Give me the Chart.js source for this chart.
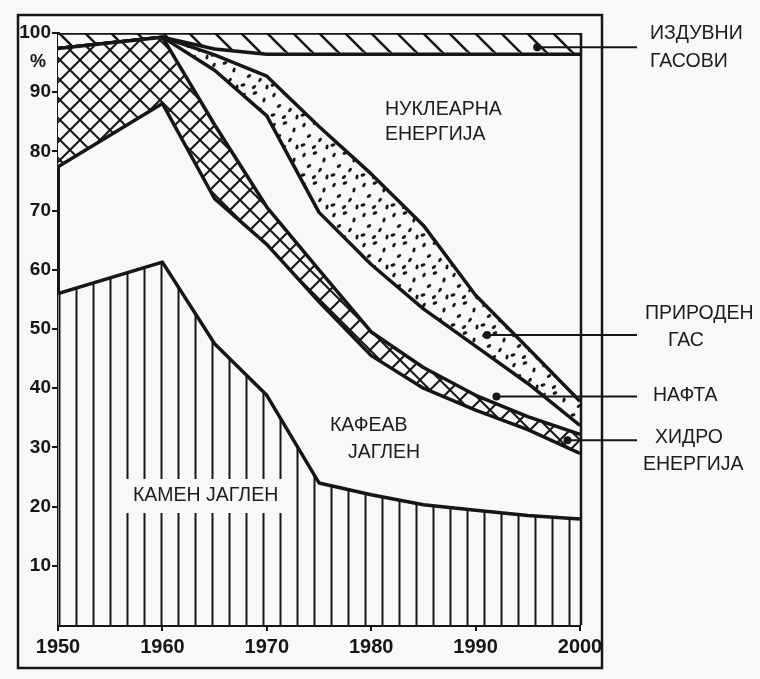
<!DOCTYPE html>
<html><head><meta charset="utf-8">
<script src="https://cdn.jsdelivr.net/npm/chart.js@4.4.1/dist/chart.umd.min.js"></script>
<style>
html,body{margin:0;padding:0;background:#f8f8f7;}
#wrap{position:relative;width:760px;height:679px;}
</style></head><body>
<div id="wrap"><canvas id="c" width="760" height="679"></canvas></div>
<script>
// ---- data (share of world energy consumption, %) ----
const years     = [1950, 1960, 1965, 1970, 1975, 1980, 1985, 1990, 1995, 2000];
const hardCoal  = [56, 61.3, 47.5, 38.8, 24, 22, 20.3, 19.4, 18.5, 17.9];
const brownCoal = [21.4, 26.8, 24.5, 25.5, 30.6, 23.5, 19.7, 16.9, 14.5, 11.1];
const hydro     = [20, 11.2, 12.5, 6.3, 5.4, 4, 3.5, 2.5, 2.2, 3.2];
const oil       = [0, 0, 9.2, 15.4, 9.7, 11.4, 9.9, 8.3, 5.6, 1.5];
const gas       = [0, 0, 2.6, 6.7, 14.5, 15.3, 14.1, 8.6, 6, 4.1];
const nuclear   = [0, 0, 1.0, 3.7, 12.2, 20.2, 28.9, 40.7, 49.6, 58.6];
const exhaust   = [2.6, 0.7, 2.7, 3.6, 3.6, 3.6, 3.6, 3.6, 3.6, 3.6];
const xTicks = [1950, 1960, 1970, 1980, 1990, 2000];
const yTicks = [10, 20, 30, 40, 50, 60, 70, 80, 90, 100];

const BG = '#f8f8f7', INK = '#161616';
const cv = document.getElementById('c');
const mainCtx = cv.getContext('2d');

function makePattern(w, h, draw) {
  const c = document.createElement('canvas');
  c.width = w; c.height = h;
  const g = c.getContext('2d');
  g.fillStyle = BG; g.fillRect(0, 0, w, h);
  g.strokeStyle = INK; g.fillStyle = INK;
  draw(g, w, h);
  return mainCtx.createPattern(c, 'repeat');
}
const vHatch = makePattern(17, 12, (g, w, h) => {
  g.lineWidth = 2; g.beginPath(); g.moveTo(8.5, 0); g.lineTo(8.5, h); g.stroke();
});
const crossHatch = makePattern(20, 20, (g, w, h) => {
  g.lineWidth = 2;
  g.beginPath();
  g.moveTo(-2, -2); g.lineTo(w + 2, h + 2);
  g.moveTo(w + 2, -2); g.lineTo(-2, h + 2);
  g.stroke();
});
const diagHatch = makePattern(26, 26, (g, w, h) => {
  g.lineWidth = 2.5;
  g.beginPath();
  g.moveTo(-2, -2); g.lineTo(w + 2, h + 2);
  g.moveTo(-w - 2, -2); g.lineTo(2, h + 2);
  g.moveTo(w - 2, -h - 2); g.lineTo(2 * w + 2, h + 2);
  g.stroke();
});
const dotted = makePattern(30, 30, (g) => {
  const dots = [[4,5,0.5],[15,3,1.2],[24,10,0.3],[9,16,1.0],[20,20,0.6],[3,25,1.3],[27,27,0.2],[14,27,0.9]];
  dots.forEach(([x, y, r]) => {
    g.beginPath(); g.ellipse(x, y, 1.5, 2.5, r, 0, Math.PI * 2); g.fill();
  });
});

const pts = arr => years.map((x, i) => ({ x, y: arr[i] }));
const base = { borderColor: INK, borderWidth: 3.5, pointRadius: 0, tension: 0, borderJoinStyle: 'round' };

const annot = {
  id: 'annot',
  afterDraw(chart) {
    const ctx = chart.ctx, a = chart.chartArea;
    const xs = chart.scales.x, ys = chart.scales.y;
    ctx.save();
    ctx.strokeStyle = INK; ctx.lineWidth = 2.5;
    ctx.beginPath(); ctx.moveTo(a.right + 1, a.top); ctx.lineTo(a.right + 1, a.bottom); ctx.stroke();
    ctx.strokeRect(18, 15, 584, 653);
    ctx.fillStyle = INK;
    ctx.font = 'bold 18px "Liberation Sans", Arial, sans-serif';
    ctx.textAlign = 'center'; ctx.textBaseline = 'middle';
    ctx.fillText('%', 38, 62);
    const leaders = [
      { x: 1995.9, y: 97.6 },
      { x: 1991.1, y: 49.0 },
      { x: 1992.0, y: 38.6 },
      { x: 1998.8, y: 31.2 }
    ];
    ctx.lineWidth = 2;
    leaders.forEach(l => {
      const px = xs.getPixelForValue(l.x), py = ys.getPixelForValue(l.y);
      ctx.beginPath(); ctx.moveTo(px, py); ctx.lineTo(637, py); ctx.stroke();
      ctx.beginPath(); ctx.arc(px, py, 4, 0, Math.PI * 2); ctx.fill();
    });
    ctx.fillStyle = BG;
    ctx.fillRect(124, 479, 166, 34);
    ctx.fillStyle = '#1c1c1c';
    ctx.font = '19.5px "Liberation Sans", Arial, sans-serif';
    ctx.textAlign = 'left'; ctx.textBaseline = 'middle';
    const texts = [
      ['ИЗДУВНИ', 650, 34], ['ГАСОВИ', 650, 62],
      ['НУКЛЕАРНА', 385, 110], ['ЕНЕРГИЈА', 385, 135],
      ['ПРИРОДЕН', 645, 314], ['ГАС', 668, 341],
      ['НАФТА', 653, 396],
      ['ХИДРО', 655, 438], ['ЕНЕРГИЈА', 643, 465],
      ['КАФЕАВ', 330, 426], ['ЈАГЛЕН', 348, 453],
      ['КАМЕН ЈАГЛЕН', 133, 496]
    ];
    texts.forEach(([t, x, y]) => ctx.fillText(t, x, y));
    ctx.restore();
  }
};

new Chart(cv, {
  type: 'line',
  data: {
    datasets: [
      { ...base, label: 'Камен јаглен', data: pts(hardCoal), fill: 'origin', backgroundColor: vHatch },
      { ...base, label: 'Кафеав јаглен', data: pts(brownCoal), fill: false },
      { ...base, label: 'Хидро енергија', data: pts(hydro), fill: '-1', backgroundColor: crossHatch },
      { ...base, label: 'Нафта', data: pts(oil), fill: false },
      { ...base, label: 'Природен гас', data: pts(gas), fill: '-1', backgroundColor: dotted },
      { ...base, label: 'Нуклеарна енергија', data: pts(nuclear), fill: false },
      { ...base, label: 'Издувни гасови', data: pts(exhaust), fill: '-1', backgroundColor: diagHatch }
    ]
  },
  options: {
    responsive: false,
    animation: false,
    layout: { padding: { top: 33, right: 180, left: 0, bottom: 0 } },
    plugins: { legend: { display: false }, tooltip: { enabled: false } },
    scales: {
      x: {
        type: 'linear', min: 1950, max: 2000,
        afterBuildTicks: s => { s.ticks = xTicks.map(v => ({ value: v })); },
        afterFit: s => { s.height = 54; },
        ticks: { color: INK, font: { family: '"Liberation Sans", Arial, sans-serif', size: 20, weight: 'bold' }, padding: 4, maxRotation: 0, callback: v => String(v) },
        grid: { drawOnChartArea: false, tickLength: 6, color: INK, lineWidth: 2 },
        border: { color: INK, width: 3 }
      },
      y: {
        stacked: true, min: 0, max: 100,
        afterBuildTicks: s => { s.ticks = yTicks.map(v => ({ value: v })); },
        afterFit: s => { s.width = 58; },
        ticks: { color: INK, font: { family: '"Liberation Sans", Arial, sans-serif', size: 19, weight: 'bold' }, padding: 1 },
        grid: { drawOnChartArea: false, tickLength: 6, color: INK, lineWidth: 2 },
        border: { color: INK, width: 3 }
      }
    }
  },
  plugins: [annot]
});
</script>
</body></html>
